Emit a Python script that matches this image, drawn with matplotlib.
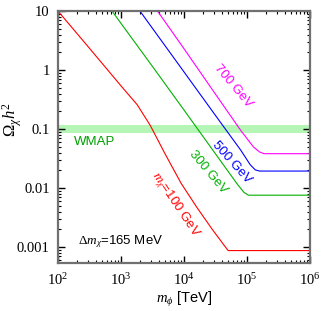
import matplotlib
matplotlib.use("Agg")
import matplotlib.pyplot as plt
from matplotlib.ticker import LogLocator, NullFormatter

plt.rcParams['font.family'] = 'Liberation Sans'
plt.rcParams['mathtext.fontset'] = 'custom'
plt.rcParams['mathtext.rm'] = 'Liberation Serif'
plt.rcParams['mathtext.it'] = 'Liberation Serif:italic'

# curves (m_phi in TeV, Omega h^2)
x_100 = [100, 300, 1000, 1800, 2900, 5000, 9000, 16000, 28000, 42000, 50000, 1e6]
y_100 = [10, 2.5, 0.54, 0.26, 0.116, 0.038, 0.012, 0.0047, 0.002, 0.00112, 0.000875, 0.000875]

x_300 = [720, 3160, 1e4, 31600, 70800, 89000, 105000, 1e6]
y_300 = [10, 1.15, 0.21, 0.038, 0.0115, 0.0085, 0.0076, 0.0076]

x_500 = [2000, 1e4, 31600, 79400, 112000, 135000, 158000, 1e6]
y_500 = [10, 0.93, 0.17, 0.044, 0.025, 0.0204, 0.0195, 0.0195]

x_700 = [3800, 1e4, 31600, 79400, 126000, 158000, 186000, 1e6]
y_700 = [10, 2.3, 0.39, 0.095, 0.05, 0.041, 0.0384, 0.0384]

wmap_band = (0.085, 0.12)

xticks = [1e2, 1e3, 1e4, 1e5, 1e6]
xtick_labels = ['$10^2$', '$10^3$', '$10^4$', '$10^5$', '$10^6$']
yticks = [0.001, 0.01, 0.1, 1, 10]
ytick_labels = ['0.001', '0.01', '0.1', '1', '10']

fig = plt.figure(figsize=(3.21, 3.11), dpi=100)
ax = fig.add_axes([0.181, 0.153, 0.785, 0.811])

ax.axhspan(wmap_band[0], wmap_band[1], color='#b5f5b5', lw=0)

ax.plot(x_100, y_100, color='#ff0000', lw=0.8)
ax.plot(x_300, y_300, color='#00b000', lw=0.8)
ax.plot(x_500, y_500, color='#0000ff', lw=0.8)
ax.plot(x_700, y_700, color='#ff00ff', lw=0.8)

ax.set_xscale('log')
ax.set_yscale('log')
ax.set_xlim(100, 1e6)
ax.set_ylim(5.3e-4, 10)

ax.set_xticks(xticks)
ax.set_xticklabels(xtick_labels)
ax.set_yticks(yticks)
ax.set_yticklabels(ytick_labels)
ax.xaxis.set_minor_locator(LogLocator(base=10, subs=range(2, 10)))
ax.yaxis.set_minor_locator(LogLocator(base=10, subs=range(2, 10)))
ax.xaxis.set_minor_formatter(NullFormatter())
ax.yaxis.set_minor_formatter(NullFormatter())
for lab in ax.get_yticklabels():
    lab.set_fontfamily('Liberation Serif')
ax.tick_params(which='both', direction='in', top=True, right=True, labelsize=10.5)
ax.tick_params(which='major', length=5, width=1, pad=6)
ax.tick_params(which='minor', length=2.5, width=0.8)
for s in ax.spines.values():
    s.set_linewidth(1.6)
    s.set_color('#707070')

ax.set_xlabel(r'$m_\phi$ [TeV]', fontsize=10.5, labelpad=2)
ax.set_ylabel(r'$\mathit{\Omega_\chi h}^2$', fontsize=12)
ax.yaxis.set_label_coords(-0.135, 0.57)

ax.text(386, 0.06, 'WMAP', color='#00a000', fontsize=9.5, ha='center', va='center')
ax.text(205, 0.00125, r'$\mathit{\Delta m_\chi}$=165 MeV', fontsize=9.5, ha='left', va='center')
ax.text(7200, 0.0053, r'$\mathit{m_\chi}$=100 GeV', color='#ff0000', fontsize=9.5,
        rotation=-56, ha='center', va='center')
ax.text(24000, 0.0185, '300 GeV', color='#00b000', fontsize=9.5,
        rotation=-50, ha='center', va='center')
ax.text(56000, 0.027, '500 GeV', color='#0000ff', fontsize=9.5,
        rotation=-48, ha='center', va='center')
ax.text(60000, 0.533, '700 GeV', color='#ff00ff', fontsize=9.5,
        rotation=-50, ha='center', va='center')

fig.savefig('out.png', dpi=100)
